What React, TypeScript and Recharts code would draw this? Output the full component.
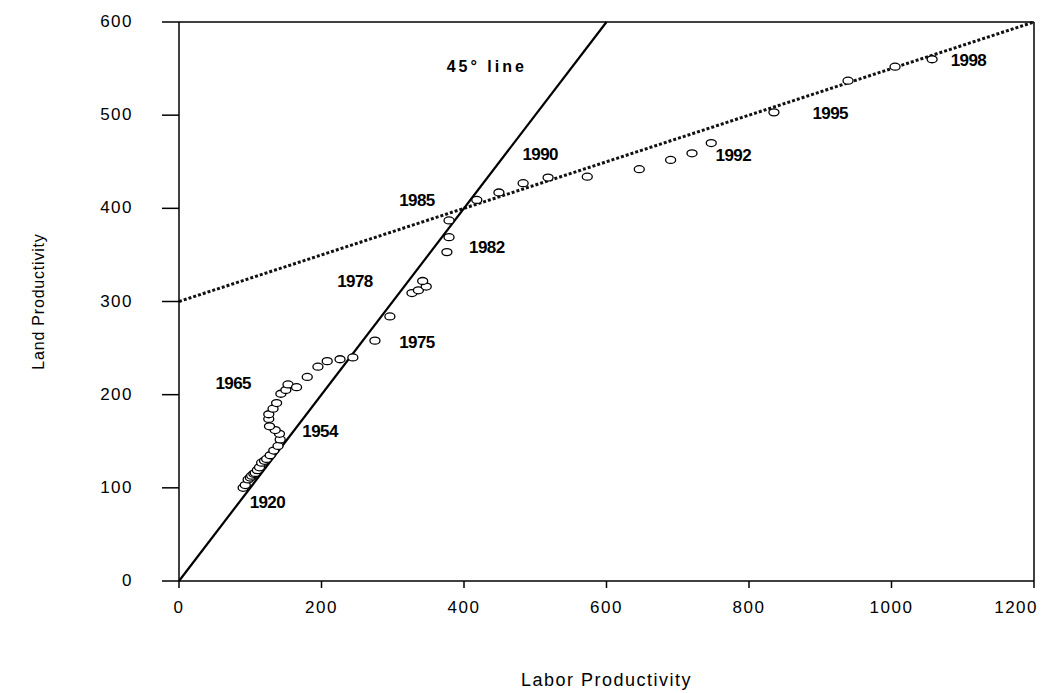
import React from 'react';
import {
  ScatterChart,
  Scatter,
  XAxis,
  YAxis,
  ReferenceLine,
} from 'recharts';

// Observed points (labor productivity, land productivity), roughly chronological from 1920
const laborProductivity = [
  90, 93, 97, 100, 102, 105, 107, 110, 113, 116, 120, 123, 128, 133, 139, 142, 141, 135, 127, 126,
  126, 132, 137, 143, 150, 153, 165, 180, 195, 208, 226, 244, 275, 296, 327, 336, 347, 342, 376,
  379, 379, 418, 449, 483, 518, 573, 646, 690, 720, 747, 835, 939, 1005, 1057,
];
const landProductivity = [
  100, 103, 109, 111, 113, 115, 116, 119, 122, 127, 129, 131, 135, 140, 145, 152, 158, 162, 166, 174,
  179, 185, 191, 201, 205, 211, 208, 219, 230, 236, 238, 240, 258, 284, 309, 312, 316, 322, 353,
  369, 387, 409, 417, 427, 433, 434, 442, 452, 459, 470, 503, 537, 552, 560,
];

// Annotation texts and their anchor positions (data units)
const labelTexts = ['45° line', '1990', '1985', '1982', '1978', '1975', '1965', '1954', '1920', '1992', '1995', '1998'];
const labelX = [432, 507, 334, 432, 247, 334, 76, 198, 124, 778, 914, 1108];
const labelY = [552, 458, 408, 358, 322, 256, 212, 160, 84, 457, 502, 559];

// Reference lines
const line45X = [0, 600];
const line45Y = [0, 600];
const trendX = [0, 1200];
const trendY = [300, 600];

const xTicks = [0, 200, 400, 600, 800, 1000, 1200];
const yTicks = [0, 100, 200, 300, 400, 500, 600];

const points = laborProductivity.map((x, i) => ({ x, y: landProductivity[i] }));
const labels = labelTexts.map((t, i) => ({ x: labelX[i], y: labelY[i], text: t }));

const FONT = '"Liberation Sans", Arial, sans-serif';

const Ellipse = (props: any) => {
  const { cx, cy } = props;
  if (cx == null || cy == null) return null;
  return <ellipse cx={cx} cy={cy} rx={5} ry={3.5} fill="#fff" stroke="#000" strokeWidth={1.3} />;
};

const LabelShape = (props: any) => {
  const { cx, cy, payload } = props;
  if (cx == null || cy == null) return null;
  const isLine = payload.text.indexOf('line') >= 0;
  return (
    <text
      x={cx}
      y={cy}
      textAnchor="middle"
      dominantBaseline="central"
      fontFamily={FONT}
      fontWeight="bold"
      fontSize={isLine ? 16 : 17}
      fill="#000"
      style={{ letterSpacing: isLine ? '3px' : '-0.6px' }}
    >
      {payload.text}
    </text>
  );
};

const XTick = (props: any) => {
  const { x, y, payload } = props;
  const last = payload.value === xTicks[xTicks.length - 1];
  return (
    <text
      x={last ? x + 4 : x}
      y={y}
      dy="0.71em"
      textAnchor={last ? 'end' : 'middle'}
      fontFamily={FONT}
      fontSize={17}
      fill="#000"
      style={{ letterSpacing: '1.5px' }}
    >
      {payload.value}
    </text>
  );
};

const YTick = (props: any) => {
  const { x, y, payload } = props;
  return (
    <text x={x} y={y} dy="0.3em" textAnchor="end" fontFamily={FONT} fontSize={17} fill="#000" style={{ letterSpacing: '1.5px' }}>
      {payload.value}
    </text>
  );
};

const XTitle = (props: any) => {
  const { viewBox } = props;
  const cx = viewBox.x + viewBox.width / 2;
  return (
    <text x={cx} y={viewBox.y + 99} textAnchor="middle" dominantBaseline="central" fontFamily={FONT} fontSize={18} fill="#000" style={{ letterSpacing: '1.5px' }}>
      Labor Productivity
    </text>
  );
};

const YTitle = (props: any) => {
  const { viewBox } = props;
  const cy = viewBox.y + viewBox.height / 2;
  const x = 30;
  return (
    <text x={x} y={cy} transform={`rotate(-90 ${x} ${cy})`} textAnchor="middle" dominantBaseline="central" fontFamily={FONT} fontSize={16} fill="#000" style={{ letterSpacing: '0.8px' }}>
      Land Productivity
    </text>
  );
};

export default function App() {
  return (
    <div style={{ width: 1045, height: 685, background: '#fff', fontFamily: FONT }}>
      <ScatterChart width={1045} height={685} margin={{ top: 14, right: 19, bottom: 0, left: 0 }}>
        <XAxis
          type="number"
          dataKey="x"
          domain={[0, 1200]}
          ticks={xTicks}
          interval={0}
          allowDataOverflow
          height={112}
          tickSize={7}
          tickMargin={13}
          axisLine={{ stroke: '#000', strokeWidth: 1.5 }}
          tickLine={{ stroke: '#000', strokeWidth: 1.5 }}
          tick={<XTick />}
          label={<XTitle />}
        />
        <YAxis
          type="number"
          dataKey="y"
          domain={[0, 600]}
          ticks={yTicks}
          interval={0}
          allowDataOverflow
          width={171}
          tickSize={17}
          tickMargin={29}
          axisLine={{ stroke: '#000', strokeWidth: 1.5 }}
          tickLine={{ stroke: '#000', strokeWidth: 1.5 }}
          tick={<YTick />}
          label={<YTitle />}
        />
        <ReferenceLine y={600} stroke="#000" strokeWidth={1.5} />
        <ReferenceLine x={1200} stroke="#000" strokeWidth={1.5} />
        <ReferenceLine
          segment={[
            { x: trendX[0], y: trendY[0] },
            { x: trendX[1], y: trendY[1] },
          ]}
          stroke="#111"
          strokeWidth={3}
          strokeDasharray="3 2"
        />
        <ReferenceLine
          segment={[
            { x: line45X[0], y: line45Y[0] },
            { x: line45X[1], y: line45Y[1] },
          ]}
          stroke="#000"
          strokeWidth={2.2}
        />
        <Scatter data={points} shape={<Ellipse />} isAnimationActive={false} />
        <Scatter data={labels} shape={<LabelShape />} isAnimationActive={false} />
      </ScatterChart>
    </div>
  );
}
